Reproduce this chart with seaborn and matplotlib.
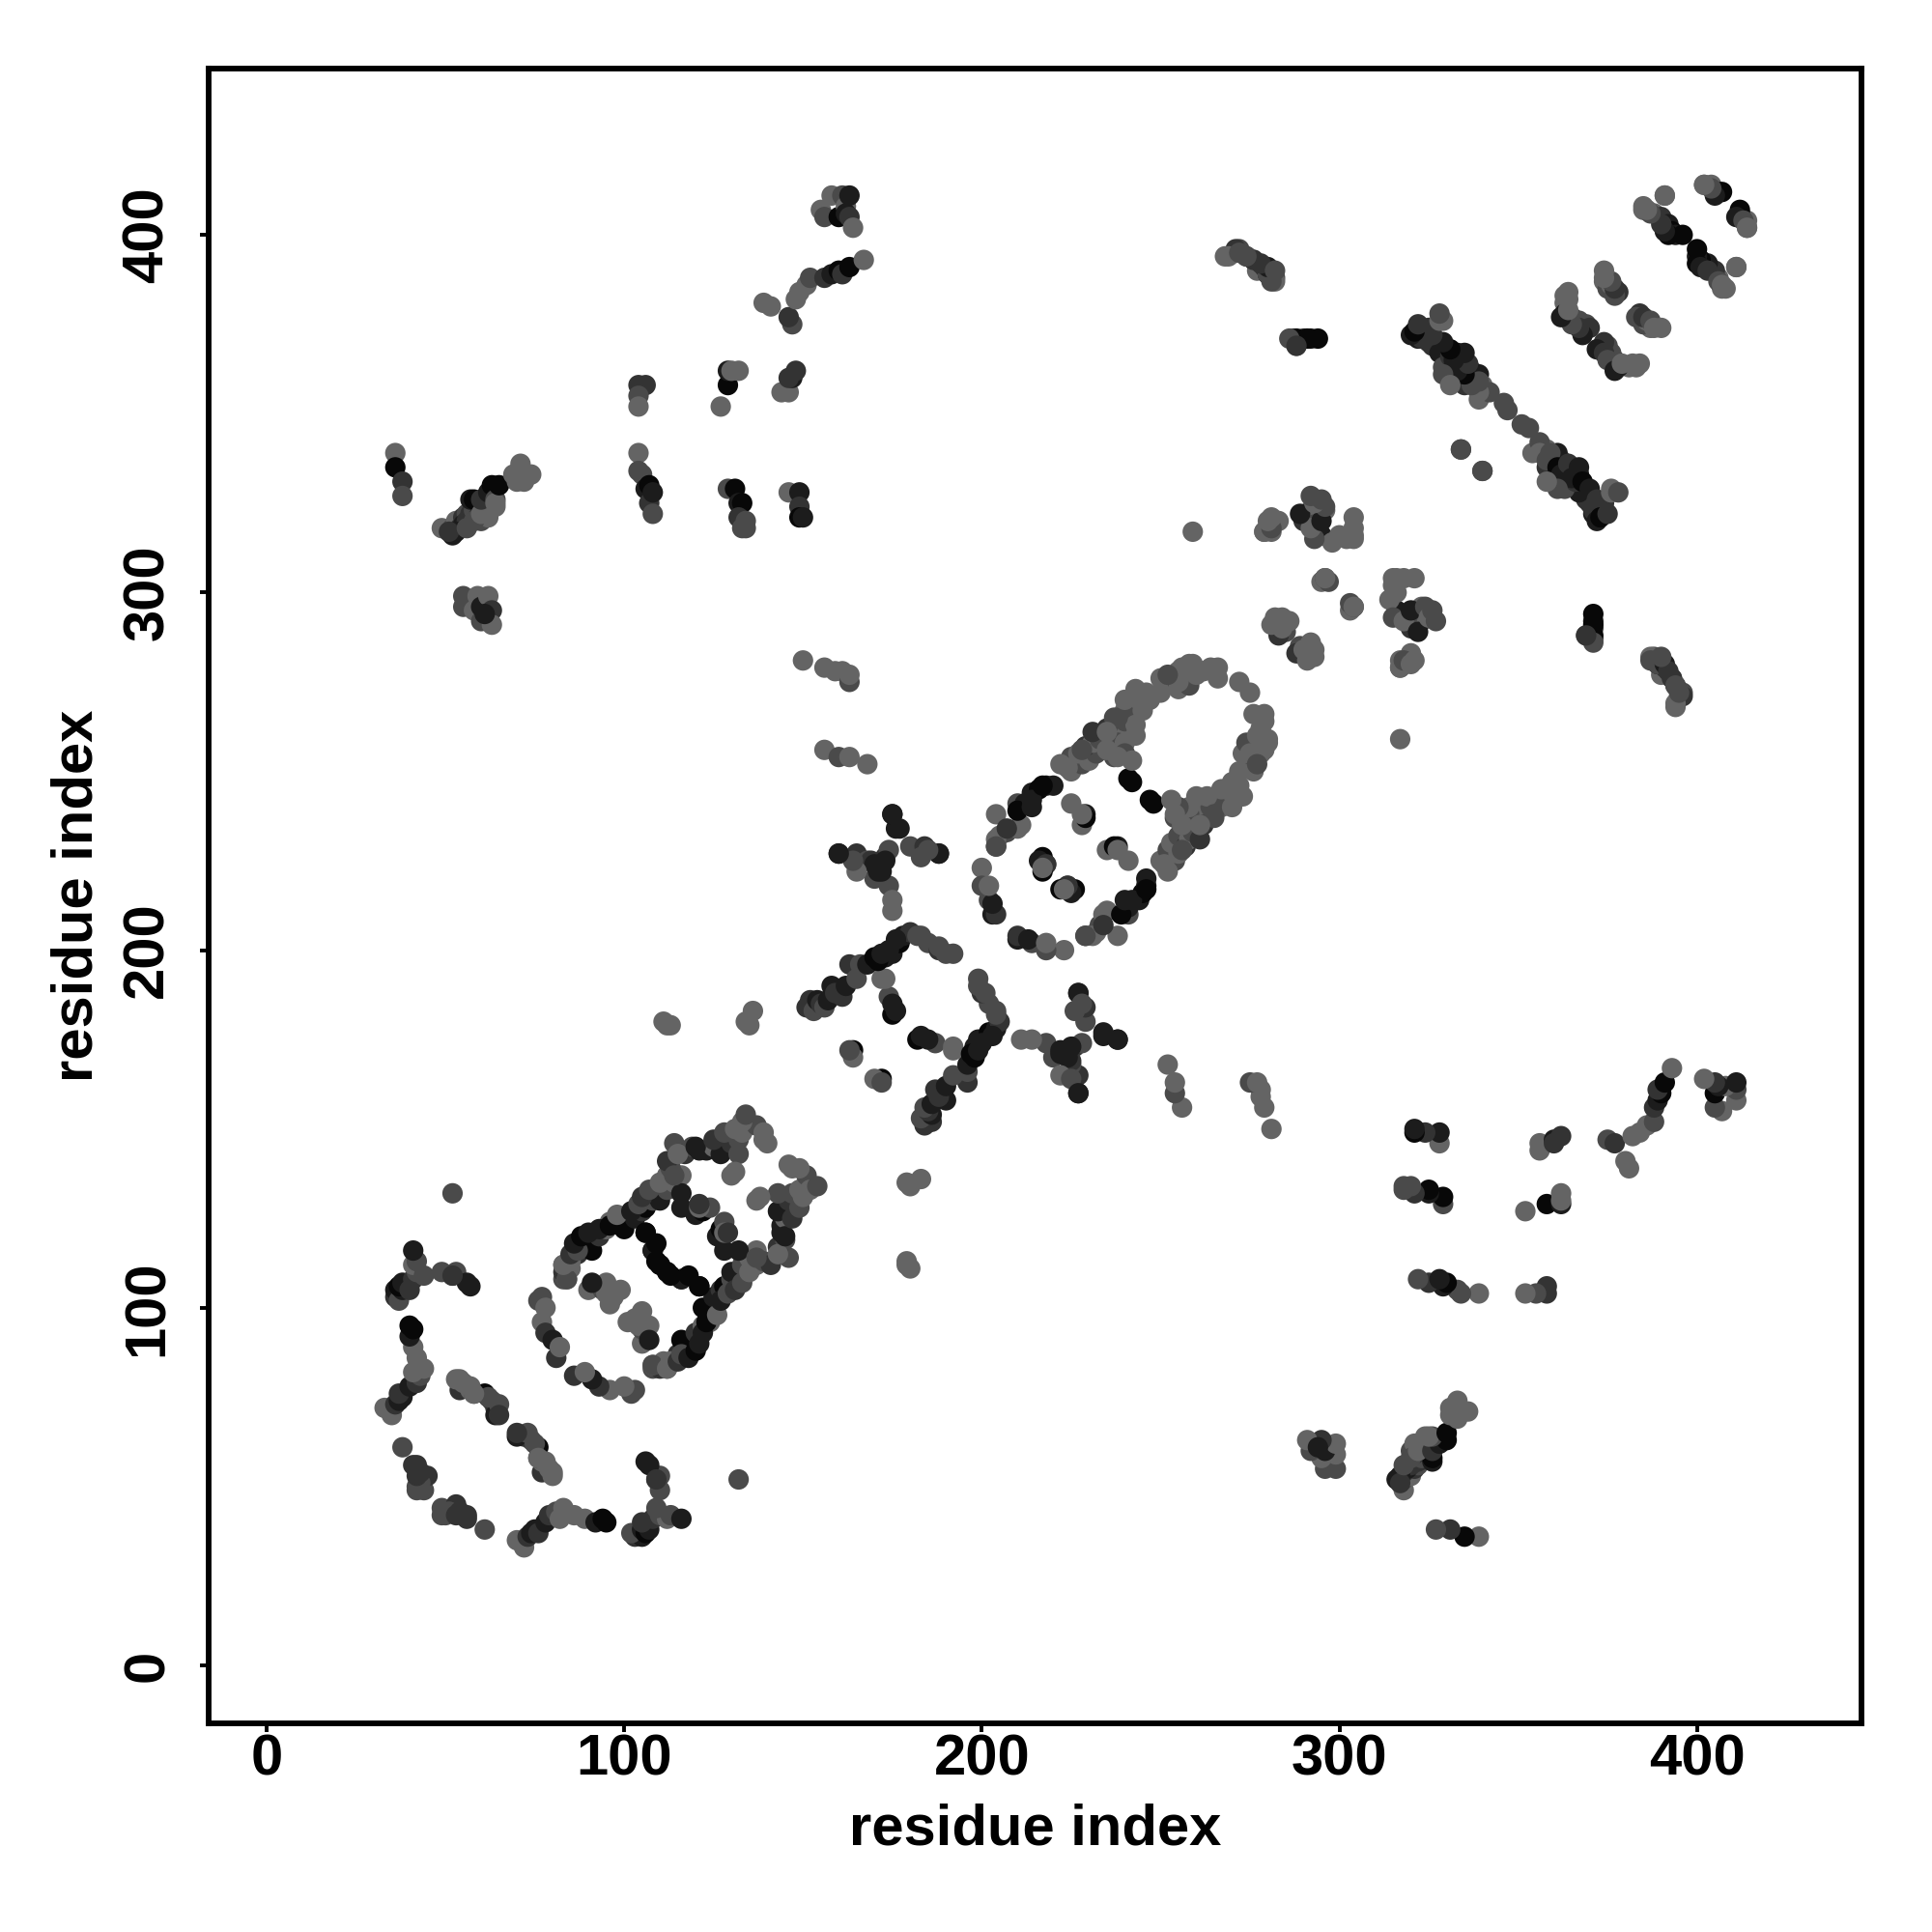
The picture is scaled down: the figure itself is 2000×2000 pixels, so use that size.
import pandas as pd
import matplotlib
matplotlib.use("Agg")
import matplotlib.pyplot as plt
import seaborn as sns

# contacts (i, j, tone); each is drawn at (i,j) and (j,i) because the map is symmetric
far_left = [(36,339,4),(36,335,0),(38,331,2),(38,327,3),(49,318,4),(52,316,1),(52,318,3),(53,320,4),(55,321,2),(56,322,3),
            (54,318,2),(55,319,1),(56,320,2),(57,322,2),(58,323,3),(59,321,2),(61,324,3),(62,323,3),(53,317,1),(51,317,2),
            (60,320,3),(62,321,4),(64,324,4),(56,318,3),(58,320,3),
            (57,326,1),(58,326,0),(60,322,4),(60,326,2),(62,328,1),(63,330,0),(64,326,3),(64,325,4),(65,330,0),(69,333,4),
            (70,331,4),(71,336,4),(72,331,4),(74,333,4),(55,299,3),(55,296,3),(58,295,4),(59,299,4),(60,292,3),(60,296,1),
            (62,299,4),(63,295,2),(63,291,4),(61,294,1)]
col_105 = [(104,358,2),(106,358,2),(104,355,3),(104,352,4),(104,339,4),(104,334,3),(105,333,3),(106,329,1),(107,330,0),(107,325,2),(108,328,1),(108,322,3)]
col_130 = [(127,352,4),(129,358,0),(129,362,1),(130,362,4),(132,362,4),(129,329,3),(131,329,0),(132,325,1),(133,325,0),(132,321,2),(134,320,3),(133,318,3),(134,318,3)]
col_147 = [(144,356,4),(146,356,4),(147,360,1),(148,362,2),(146,360,2),(146,328,4),(149,328,1),(149,324,2),(149,321,0),(150,321,1)]
ridge_top = [(139,381,4),(141,380,4),(147,375,3),(146,377,2),(148,382,4),(149,384,4),(151,386,4),(152,388,3),(156,388,2),(158,389,1),
             (160,390,0),(161,389,2),(163,391,0),(167,393,4),(155,407,4),(156,405,3),(158,411,4),(160,405,0),(161,411,3),(162,408,4),
             (162,406,1),(163,405,2),(163,411,1),(164,402,4)]
short_mid = [(150,281,4),(156,279,4),(159,278,4),(161,278,4),(163,275,3),(163,277,4),(156,256,4),(160,254,3),(163,254,4),(168,252,4)]
top_mid = [(268,394,4),(271,395,4),(272,396,3),(274,394,2),(276,393,3),(277,392,1),(277,390,4),(279,391,2),(280,389,1),(281,390,3),(282,388,3),(282,387,4),
           (287,371,3),(288,369,3),(290,371,2),(292,371,1),(294,371,0)]
long_anti = [(322,371,1),(323,371,2),(325,374,2),(325,370,2),(326,369,2),(328,367,1),(329,376,4),(329,363,3),(330,368,1),(331,366,2),(331,360,3),
             (333,367,1),(334,364,0),(335,358,2),(336,361,1),(337,362,3),(339,361,1),(340,358,4),(339,354,4),(342,356,3),(347,351,3),
             (353,346,3),(356,339,4),(358,337,3),(359,339,3),(361,335,0),(362,333,1),(364,336,2),(365,332,1),(367,335,1),(368,331,0),
             (370,329,1),(372,326,2),(372,320,1),(373,321,0),(375,322,2),(376,328,4),(378,328,3),(361,329,3),(358,331,4),(334,340,3),(340,334,3)]
mid_right = [(259,317,4),(279,317,4),(281,317,4),(281,320,4),(283,320,4),(290,320,2),(292,323,4),(293,319,3),(295,316,1),(296,323,4),(298,314,4),(302,315,4),
             (304,318,4),(304,315,4),(295,303,4),(296,304,3),(303,297,3),(304,296,4),(282,292,4),(283,289,1),(285,289,3),(286,292,4),(288,283,2),(290,284,4),
             (291,281,4),(293,284,4),(293,282,4),(315,293,3),(316,300,4),(316,304,4),(318,292,4),(320,295,1),(321,304,4),(322,289,1),(324,296,3),(325,293,4),
             (327,292,3),(326,295,3),(317,279,4),(318,281,3),(320,280,4),(321,281,4),(371,291,0),(371,288,0),(371,286,3),(369,288,2)]
right_tail = [(387,281,3),(389,280,3),(391,280,1),(392,278,2),(393,276,2),(394,274,3),(396,271,2),(394,269,4),(395,272,3),(390,282,3)]
top_right = [(385,407,4),(388,406,4),(390,405,2),(391,411,4),(392,403,1),(393,401,0),(394,400,1),(396,400,0),(400,392,0),(401,391,1),(403,390,2),(406,387,3),
             (407,386,4),(408,385,4),(402,414,4),(404,414,4),(406,412,1),(407,412,0),(411,405,1),(413,404,3),(414,402,4),(411,391,4),
             (363,383,4),(363,381,4),(363,378,1),(365,377,2),(367,376,3),(369,375,3),(370,374,2),(374,387,4),(375,385,3),(378,384,2),(376,386,4),(372,368,1),(374,367,2),
             (375,365,3),(377,362,1),(379,364,4),(382,364,4),(384,364,4),(383,377,3),(385,377,2),(387,376,3),(388,374,4),(390,374,4)]
low_left = [(33,72,4),(35,70,4),(36,73,2),(37,74,1),(38,75,1),(37,76,2),(40,78,1),(42,79,2),(43,81,3),(44,83,4),(41,82,4),(42,86,4),(41,89,4),(40,92,1),(41,94,0),(40,95,0),
            (36,103,2),(36,105,1),(37,102,3),(38,105,1),(37,106,0),(38,107,1),(40,105,2),(41,108,2),(42,110,3),(41,112,4),(44,109,3),(42,113,3),(41,116,1),
            (38,61,3),(42,56,2),(43,53,3),(44,49,3),(42,50,3),(45,53,2),(49,110,3),(52,109,3),(53,110,3),(57,106,1),(52,132,3),(56,107,1),(52,109,2),
            (54,79,4),(54,77,2),(57,77,4),(58,76,3),(61,76,0),(63,74,3),(64,72,2),(64,70,1),(65,73,3),(65,70,2),(62,75,3),(58,76,4),(57,78,4),(55,79,4),(54,80,4),(53,80,4),
            (42,49,3),(43,51,3),(42,53,2),(43,54,2),(41,56,2)]
prop_a_outer = [(76,102,3),(77,96,4),(77,103,3),(78,100,4),(78,93,2),(80,91,1),(81,86,2),(82,89,4),(83,108,3),(83,112,4),(84,110,3),(85,114,4),(87,115,2),(88,117,1),(90,118,1),
                (83,110,2),(84,112,3),(85,111,4),(84,108,4),
                (91,116,0),(93,120,2),(95,122,4),(96,124,4),(98,124,4),(100,122,0),(103,125,1),(105,127,2),(106,128,0),(108,130,3),(110,130,1),(112,133,3),(114,135,4),(116,137,4),
                (114,146,3),(117,143,2),(119,145,3),(121,144,1),(123,144,1),(125,145,4),(127,143,1),(128,145,1),(130,146,2),(132,147,3),(133,149,4),(135,151,4),(137,151,3),
                (139,149,4),(139,147,4),(140,146,4)]
prop_a_inner = [(90,105,4),(92,106,4),(94,105,3),(97,103,4),(99,105,4),(96,101,4),(104,95,4),(105,96,4),(107,95,4),(107,91,1),(108,84,3),(112,83,4),(113,85,4),(115,85,2),(116,87,3),(118,86,1),
                (120,88,0),(121,90,1),(122,93,1),(123,96,0),(126,98,4),(127,102,1),(129,104,3),(131,105,2),(133,107,3),(135,110,4),(137,112,4),(139,113,3),(141,112,2),(143,115,4),
                (145,120,1),(147,125,2),(149,128,3),(150,131,4),(152,133,4),(154,134,3),(106,121,0),(108,116,0),(110,112,2),(112,110,0),(116,108,1),(121,106,0),(118,109,0),
                (116,128,1),(120,126,1),(122,127,0),(124,128,3),(132,143,3),(131,138,4),(130,137,4),(128,121,4),(129,121,2),(132,116,1),(114,137,3),(113,109,0)]
cross_mid = [(112,179,4),(113,179,4),(135,179,4),(136,183,4),(134,180,4),(111,180,4),(151,184,2),(152,186,2),(153,183,3),(154,186,1),(155,185,2),(156,184,3),(157,186,1),(158,190,1),(159,188,2),
             (161,187,2),(162,190,1),(163,196,2),(165,192,3),(166,196,3),(168,196,1),(170,198,0),(173,198,1),(175,199,1),(177,202,0),(178,204,1),(180,205,2),(182,204,3),(185,202,3),(188,200,2),
             (190,199,3),(192,199,3),(183,204,3),(188,201,3),(175,182,0),(174,187,3),(173,192,4),(172,192,4),(175,185,1),(176,183,1),(164,172,0),(164,170,4),(163,172,3),
             (160,227,1),(165,227,2),(168,225,3),(171,223,1),(173,226,2),(174,228,3),(176,234,1),(175,238,0),(174,218,3),(175,214,4),(175,211,4),(180,229,3),(184,229,2),(188,227,1),
             (170,220,3),(172,222,1),(169,225,2),(170,224,1),(165,222,4),(164,225,3),(160,227,1),(171,222,1),(173,225,1),(177,234,1),(175,238,1),(188,227,1),(185,228,3),(183,226,3),
             (171,197,0),(172,199,1),(174,200,1),(176,203,1)]
prop_b = [(200,223,4),(200,218,3),(202,214,3),(203,210,1),(204,210,2),(205,232,4),(204,238,4),(207,233,3),(204,229,2),(204,231,4),(210,234,4),(211,235,4),(210,241,3),(212,241,1),(214,244,1),(216,245,0),(218,246,1),
          (220,246,1),(218,224,3),(217,226,0),(216,225,1),(224,218,2),(222,217,0),(223,217,4),(225,250,4),(228,252,3),(230,253,4),(232,255,3),(235,257,4),(237,260,2),(238,262,4),(240,264,3),
          (235,262,2),(237,265,3),(240,267,4),(241,270,4),(242,266,3),(244,270,4),(246,272,4),(238,258,3),(240,258,4),(243,260,4),
          (254,275,3),(256,276,1),(257,277,2),(255,278,4),(256,279,4),(258,280,4),(225,254,3),(227,255,4),(229,257,2),(231,258,4),(233,259,3),
          (243,263,4),(245,267,4),(247,270,4),(250,272,4),(255,273,4),(258,274,3),(260,277,4),(262,278,4),(264,279,4),(266,279,4),(272,275,4),(229,238,1),(228,235,4),(225,241,4),(229,237,0),
          (228,238,4),(237,254,3),(240,255,3),(241,248,0),(242,253,4),(238,254,4),(235,256,4),(231,261,2),(238,265,3),(240,270,4),(243,272,4),(255,275,4),(250,276,4),(257,278,4),(222,252,4),
          (224,251,4),(228,256,3),(235,261,4),(243,273,4),(252,277,3),(259,280,4),(266,276,4),(204,229,3),(207,234,2),(210,239,0),(214,242,1),(217,246,0),(203,213,1),(202,218,4),(214,240,1),
          (247,242,0)]

regions = [far_left, col_105, col_130, col_147, ridge_top, short_mid, top_mid, long_anti, mid_right,
           right_tail, top_right, low_left, prop_a_outer, prop_a_inner, cross_mid, prop_b]
tone_greys = ["#080808", "#1c1c1c", "#333333", "#4a4a4a", "#646464"]
x_ticks = [0, 100, 200, 300, 400]
axis_label = "residue index"

rows = []
for reg in regions:
    for i, j, t in reg:
        rows.append((i, j, t))
        rows.append((j, i, t))
df = pd.DataFrame(rows, columns=["x", "y", "tone"])

sns.set_theme(style="white")
plt.rcParams["font.family"] = ["Liberation Sans", "DejaVu Sans"]
plt.rcParams["font.weight"] = "bold"

fig = plt.figure(figsize=(10, 10), dpi=200)
ax = fig.add_axes([216/2000, 1-1784/2000, (1927-216)/2000, (1784-71)/2000])
sns.scatterplot(data=df, x="x", y="y", hue="tone", palette=dict(enumerate(tone_greys)),
                s=58, linewidth=0, alpha=1, legend=False, ax=ax, clip_on=True)
ax.set_xlim(-16.2, 446)
ax.set_ylim(-16.2, 446.5)
ax.set_xticks(x_ticks)
ax.set_yticks(x_ticks)
ax.tick_params(axis="x", length=3.2, width=1.4, color="black", labelsize=21.5, labelcolor="black", pad=0.5, bottom=True)
ax.tick_params(axis="y", length=3.2, width=1.4, color="black", labelsize=21.5, labelcolor="black", pad=9.5, left=True)
for lab in ax.get_yticklabels():
    lab.set_rotation(90)
    lab.set_va("center")
    lab.set_fontweight("bold")
for lab in ax.get_xticklabels():
    lab.set_fontweight("bold")
for s in ax.spines.values():
    s.set_linewidth(2.1)
    s.set_color("black")
ax.set_xlabel(axis_label, fontsize=21.5, fontweight="bold", color="black", labelpad=6.2)
ax.set_ylabel(axis_label, fontsize=21.5, fontweight="bold", color="black", labelpad=6.5)
fig.savefig("out.png", dpi=200, facecolor="white")
